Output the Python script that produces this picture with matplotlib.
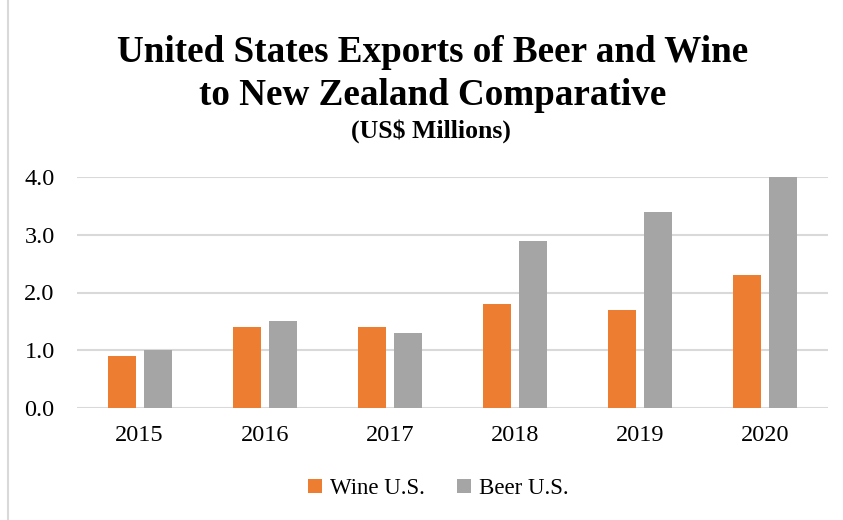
import numpy as np
import matplotlib
matplotlib.use('Agg')
import matplotlib.pyplot as plt
from matplotlib.lines import Line2D

plt.rcParams['font.family'] = ['Liberation Serif', 'DejaVu Serif']

years = ['2015', '2016', '2017', '2018', '2019', '2020']
wine = [0.9, 1.4, 1.4, 1.8, 1.7, 2.3]
beer = [1.0, 1.5, 1.3, 2.9, 3.4, 4.0]

orange = '#ED7D31'
grey = '#A5A5A5'

fig = plt.figure(figsize=(8.43, 5.2), dpi=100)
ax = fig.add_axes([0.0913, 0.2154, 0.8907, 0.4442])

x = np.arange(len(years))
w = 0.224
gap = 0.064
ax.bar(x - (w + gap) / 2, wine, w, color=orange, label='Wine U.S.', zorder=3)
ax.bar(x + (w + gap) / 2, beer, w, color=grey, label='Beer U.S.', zorder=3)

ax.set_xlim(-0.5, len(years) - 0.5)
ax.set_ylim(0, 4)
ax.set_yticks(np.arange(0, 4.5, 1.0))
ax.set_yticklabels(['%.1f' % v for v in np.arange(0, 4.5, 1.0)])
ax.set_xticks(x)
ax.set_xticklabels(years)
ax.yaxis.grid(True, color='#D9D9D9', lw=1.5, zorder=0)
ax.set_axisbelow(True)
for s in ax.spines.values():
    s.set_visible(False)
ax.tick_params(length=0, labelsize=17.5, colors='black')
ax.tick_params(axis='x', pad=12)
ax.tick_params(axis='y', pad=16)

fig.text(0.513, 0.9, 'United States Exports of Beer and Wine', ha='center', va='center',
         fontsize=26.7, fontweight='bold')
fig.text(0.513, 0.816, 'to New Zealand Comparative', ha='center', va='center',
         fontsize=26.7, fontweight='bold')
fig.text(0.511, 0.748, '(US$ Millions)', ha='center', va='center',
         fontsize=18.5, fontweight='bold')

fig.legend(loc='center', bbox_to_anchor=(0.52, 0.06), ncol=2, frameon=False,
           fontsize=16.5, handlelength=0.6, handleheight=0.6, handletextpad=0.35,
           columnspacing=1.4)

fig.add_artist(Line2D([8 / 843, 8 / 843], [0, 1], transform=fig.transFigure,
                      color='#D9D9D9', lw=1.5))

fig.savefig('out.png', dpi=100)
